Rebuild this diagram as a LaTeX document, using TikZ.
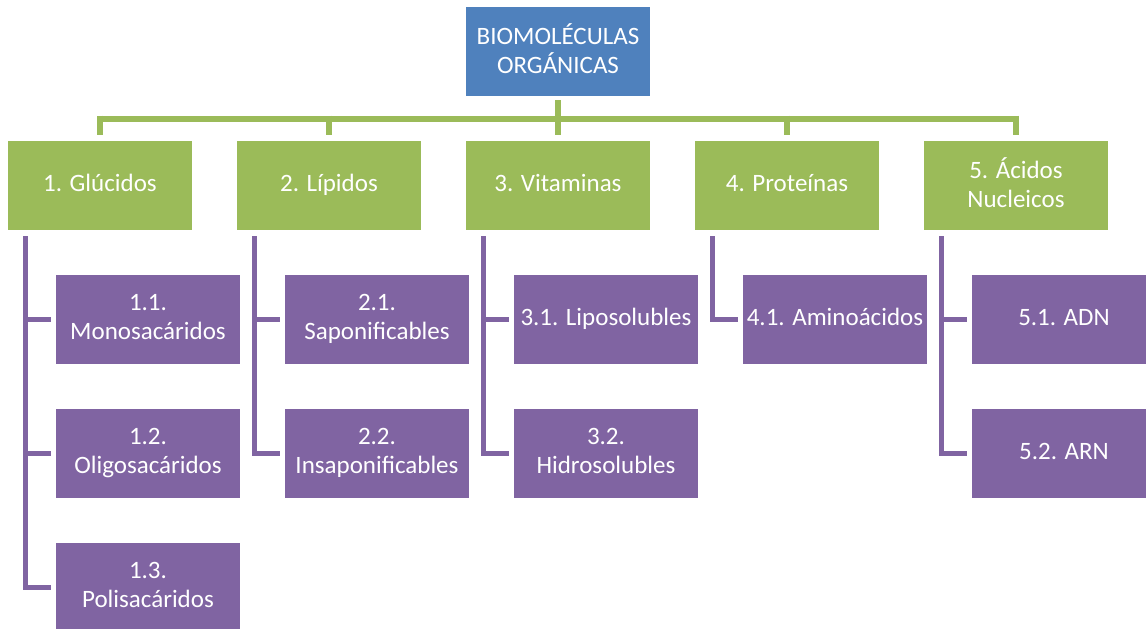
\documentclass[tikz,border=0pt]{standalone}
\usepackage{fontspec}
\setmainfont{Carlito}
\usetikzlibrary{positioning}
\definecolor{rootblue}{HTML}{4F81BD}
\definecolor{groupgreen}{HTML}{9BBB59}
\definecolor{itempurple}{HTML}{8064A2}

\begin{document}
\begin{tikzpicture}[
  every node/.style = {shape=rectangle, align=center, text=white,
    inner sep=0pt, outer sep=0pt, minimum width=184pt, minimum height=89pt,
    font=\fontsize{25}{29}\selectfont, text depth=5pt},
  root/.style = {fill=rootblue},
  group/.style = {fill=groupgreen},
  item/.style = {fill=itempurple},
  node distance = 45pt,
  greenline/.style = {draw=groupgreen, line width=6pt},
  purpleline/.style = {draw=itempurple, line width=5pt}
    ]
  \clip (0,0) rectangle (1146pt,-629pt);
  \node[root] (root) at (558pt,-51.5pt) {BIOMOLÉCULAS\\ORGÁNICAS};
  \node[group] (g1) at (100pt,-185.5pt) {1. Glúcidos};
  \node[group, right=of g1] (g2) {2. Lípidos};
  \node[group, right=of g2] (g3) {3. Vitaminas};
  \node[group, right=of g3] (g4) {4. Proteínas};
  \node[group, right=of g4] (g5) {5. Ácidos\\Nucleicos};
  \node[item, below=of g1, xshift=48pt] (p11) {1.1.\\Monosacáridos};
  \node[item, below=of p11] (p12) {1.2.\\Oligosacáridos};
  \node[item, below=of p12] (p13) {1.3.\\Polisacáridos};
  \node[item, below=of g2, xshift=48pt] (p21) {2.1.\\Saponificables};
  \node[item, below=of p21] (p22) {2.2.\\Insaponificables};
  \node[item, below=of g3, xshift=48pt] (p31) {3.1. Liposolubles};
  \node[item, below=of p31] (p32) {3.2.\\Hidrosolubles};
  \node[item, below=of g4, xshift=48pt] (p41) {4.1. Aminoácidos};
  \node[item, below=of g5, xshift=48pt] (p51) {5.1. ADN};
  \node[item, below=of p51] (p52) {5.2. ARN};
  % green bus
  \coordinate (bus) at (0,-118.5pt);
  \draw[greenline] ([yshift=-4pt]root.south) -- (root |- bus);
  \draw[greenline] ([xshift=-3pt]g1 |- bus) -- ([xshift=3pt]g5 |- bus);
  \foreach \g in {g1,g2,g3,g4,g5}
    \draw[greenline] ([yshift=3pt]\g |- bus) -- ([yshift=6pt]\g.north);
  % purple links
  \foreach \g/\p in {g1/p11,g1/p12,g1/p13,g2/p21,g2/p22,g3/p31,g3/p32,g4/p41,g5/p51,g5/p52}
    \draw[purpleline] ([xshift=17pt,yshift=-6pt]\g.south west) |- ([xshift=-5pt]\p.west);
\end{tikzpicture}
\end{document}
